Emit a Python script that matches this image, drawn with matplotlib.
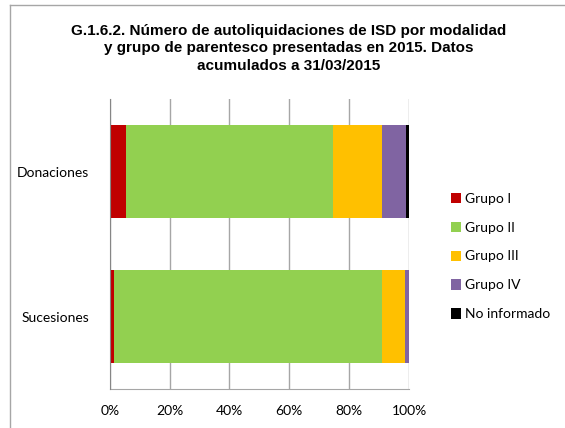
import matplotlib
matplotlib.use("Agg")
import matplotlib.pyplot as plt
from matplotlib.lines import Line2D
from matplotlib.patches import Patch
from matplotlib import font_manager

categories = ["Donaciones", "Sucesiones"]
series_names = ["Grupo I", "Grupo II", "Grupo III", "Grupo IV", "No informado"]
grupo_i = [5.5, 1.5]
grupo_ii = [69.2, 89.5]
grupo_iii = [16.3, 7.7]
grupo_iv = [7.9, 1.3]
no_informado = [1.1, 0.0]
xticks = [0, 20, 40, 60, 80, 100]
xtick_labels = ["0%", "20%", "40%", "60%", "80%", "100%"]
title = ("G.1.6.2. Número de autoliquidaciones de ISD por modalidad\n"
         "y grupo de parentesco presentadas en 2015. Datos\n"
         "acumulados a 31/03/2015")

colors = ["#C00000", "#92D050", "#FFC000", "#8064A2", "#000000"]

avail = {f.name for f in font_manager.fontManager.ttflist}
body_font = "Lato" if "Lato" in avail else "DejaVu Sans"
title_font = "Liberation Sans Narrow" if "Liberation Sans Narrow" in avail else "Liberation Sans"

W, H = 565, 428
fig = plt.figure(figsize=(W / 100, H / 100), dpi=100)

ax_left, ax_right, ax_top, ax_bottom = 109.7, 409.0, 99.0, 389.3
ax = fig.add_axes([ax_left / W, 1 - ax_bottom / H, (ax_right - ax_left) / W, (ax_bottom - ax_top) / H])

series = [grupo_i, grupo_ii, grupo_iii, grupo_iv, no_informado]
ypos = list(range(len(categories)))
left = [0.0] * len(categories)
for vals, col, name in zip(series, colors, series_names):
    ax.barh(ypos, vals, left=left, height=0.64, color=col, label=name, zorder=3)
    left = [l + v for l, v in zip(left, vals)]

ax.set_xlim(0, 100)
ax.set_ylim(1.5, -0.5)
ax.set_xticks(xticks)
ax.set_xticklabels(xtick_labels, fontfamily=body_font, fontsize=10)
ax.set_yticks(ypos)
ax.set_yticklabels(categories, fontfamily=body_font, fontsize=10)
ax.tick_params(axis="both", length=0)
ax.tick_params(axis="x", pad=11)
ax.tick_params(axis="y", pad=15)
ax.grid(axis="x", color="#A6A6A6", linewidth=1, zorder=0)
for s in ["top", "right"]:
    ax.spines[s].set_visible(False)
ax.spines["left"].set_color("#868686")
ax.spines["bottom"].set_color("#A6A6A6")
ax.spines["left"].set_zorder(4)

fig.text(289 / W, 1 - 24 / H, title, ha="center", va="top", fontfamily=title_font,
         fontweight="bold", fontsize=11, linespacing=1.3)

handles = [Patch(facecolor=c, edgecolor="none", label=n) for c, n in zip(colors, series_names)]
fig.legend(handles=handles, loc="upper left", bbox_to_anchor=(445 / W, 1 - 187 / H),
           frameon=False, prop={"family": body_font, "size": 10},
           handlelength=0.75, handleheight=0.75, handletextpad=0.3, labelspacing=1.22,
           borderaxespad=0)

fig.add_artist(Line2D([10 / W, 10 / W], [0, 1 - 4.5 / H], transform=fig.transFigure,
                      color="#A6A6A6", linewidth=1))
fig.add_artist(Line2D([10 / W, 1], [1 - 4.5 / H, 1 - 4.5 / H], transform=fig.transFigure,
                      color="#A6A6A6", linewidth=1))

fig.savefig("out.png", dpi=100)
